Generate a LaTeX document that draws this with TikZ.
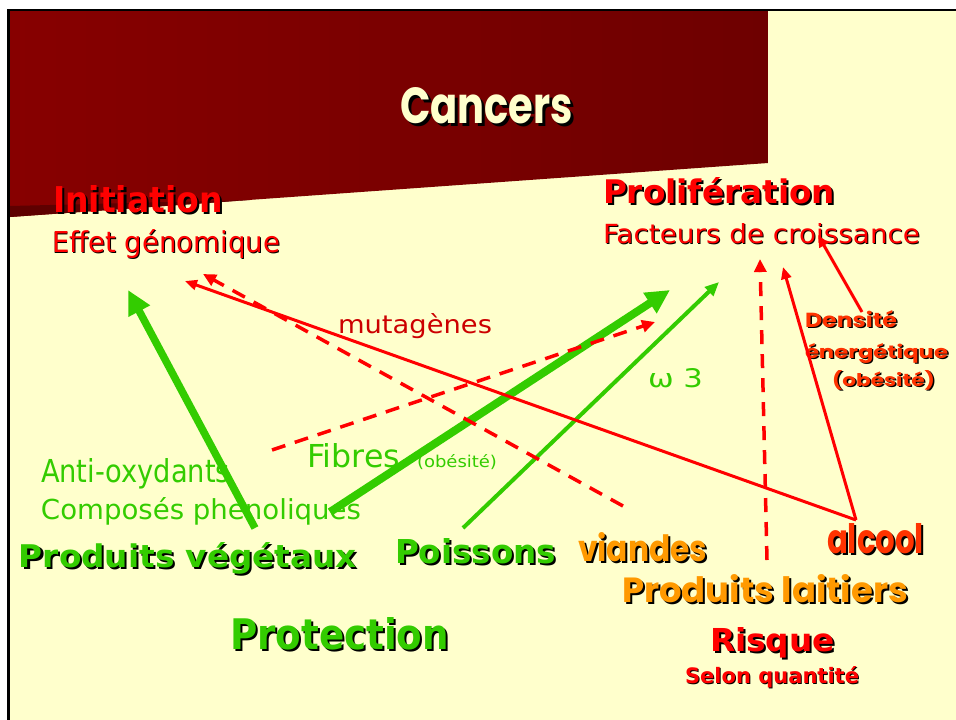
\documentclass[tikz,border=0pt]{standalone}
\usepackage{fontspec}
\setmainfont{DejaVu Sans}
\newfontfamily\comicf{Poppins}
\usetikzlibrary{arrows.meta}
\definecolor{slidebg}{HTML}{FFFFCC}
\definecolor{titlered}{HTML}{870000}
\definecolor{titlereddark}{HTML}{6E0000}
\definecolor{wedge}{HTML}{5E0000}
\definecolor{vert}{HTML}{33CC00}
\definecolor{rouge}{HTML}{FF0000}
\definecolor{rougefonce}{HTML}{CC0000}
\definecolor{orange}{HTML}{FF9900}
\definecolor{orangerouge}{HTML}{FF3300}
\definecolor{titletext}{HTML}{FFFFCC}
\tikzset{
  txt/.style={anchor=base west, inner sep=0pt, outer sep=0pt},
  greenthick/.style={draw=vert, line width=7.5pt, -{Triangle[length=24pt,width=23pt]}},
  greenthin/.style={draw=vert, line width=4pt, -{Triangle[length=14pt,width=12pt]}},
  redsolid/.style={draw=rouge, line width=3pt, -{Triangle[length=12pt,width=10pt]}},
  reddash/.style={draw=rouge, line width=3.5pt, dash pattern=on 14pt off 10pt, -{Triangle[length=13pt,width=12pt]}},
}
% name, x, baseline y, width, height, font, colour, shadow offset, text
\newcommand\slidetext[9]{%
  \node[txt] (#1) at (#2,#3) {%
    \ifdim #8pt>0pt
      \makebox[0pt][l]{\hspace*{#8pt}\raisebox{-#8pt}{\resizebox{#4pt}{#5pt}{#6\color{black}#9}}}%
    \fi
    \resizebox{#4pt}{#5pt}{#6\color{#7}#9}};}
\begin{document}
\begin{tikzpicture}[x=1pt,y=-1pt]
\useasboundingbox (0,0) rectangle (956,720);
\fill[white] (0,0) rectangle (956,720);
\fill[slidebg] (10,11) rectangle (956,720);
% title band
\shade[left color=titlered, right color=titlereddark] (10,11) -- (768,11) -- (768,163) -- (10,217) -- cycle;
\fill[wedge] (10,206) -- (250,200) -- (10,217) -- cycle;
% frame
\draw[black, line width=2.5pt] (7,10) -- (956,10);
\draw[black, line width=3pt] (8.5,10) -- (8.5,720);

% texts
\slidetext{cancers}{400}{123}{173}{36}{\comicf\bfseries}{titletext}{3}{Cancers}
\slidetext{init}{53}{212}{170}{27}{\bfseries}{rouge}{2}{Initiation}
\slidetext{effet}{52}{252}{228}{23}{}{rouge}{1}{Effet génomique}
\slidetext{prolif}{603}{203}{232}{26}{\bfseries}{rouge}{2}{Prolifération}
\slidetext{facteurs}{603}{243}{317}{20}{}{rouge}{1}{Facteurs de croissance}
\slidetext{mutag}{338}{333}{154}{20}{}{rougefonce}{0}{mutagènes}
\slidetext{omega}{648}{387}{55}{19}{}{vert}{0}{ω 3}
\slidetext{densite}{805}{327}{92}{17}{\comicf\bfseries}{orangerouge}{1.5}{Densité}
\slidetext{energ}{805}{358}{143}{15}{\comicf\bfseries}{orangerouge}{1.5}{énergétique}
\slidetext{obes}{832}{386}{103}{16}{\comicf\bfseries}{orangerouge}{1.5}{(obésité)}
\slidetext{fibres}{307}{467}{93}{24}{}{vert}{0}{Fibres}
\slidetext{fibobes}{417}{467}{80}{13}{}{vert}{0}{(obésité)}
\slidetext{antiox}{41}{482}{189}{24}{}{vert}{0}{Anti-oxydants}
\slidetext{phenol}{41}{519}{320}{22}{}{vert}{0}{Composés phenoliques}
\slidetext{vegetaux}{19}{567}{338}{25}{\bfseries}{vert}{2}{Produits végétaux}
\slidetext{poissons}{395}{563}{161}{25}{\bfseries}{vert}{2}{Poissons}
\slidetext{viandes}{578}{561}{129}{29}{\comicf\bfseries}{orange}{2}{viandes}
\slidetext{alcool}{827}{553}{97}{30}{\comicf\bfseries}{orangerouge}{2}{alcool}
\slidetext{laitiers}{622}{602}{286}{28}{\comicf\bfseries}{orange}{2}{Produits laitiers}
\slidetext{risque}{710}{651}{125}{24}{\bfseries}{rouge}{2}{Risque}
\slidetext{selon}{685}{683}{174}{17}{\bfseries}{rouge}{1}{Selon quantité}
\slidetext{protection}{230}{649}{219}{32}{\bfseries}{vert}{2}{Protection}

% arrow end points
\coordinate (aS) at (255,528); \coordinate (aT) at (128,290);
\coordinate (bS) at (330,512); \coordinate (bT) at (670,290);
\coordinate (cS) at (463,528); \coordinate (cT) at (719,282);
\coordinate (alc) at (856,520);
\coordinate (dT) at (185,281);
\coordinate (eS) at (623,506); \coordinate (eT) at (203,274);
\coordinate (fS) at (272,450); \coordinate (fT) at (655,322);
\coordinate (gS) at (767,560); \coordinate (gT) at (760,259);
\coordinate (hT) at (783,267);
\coordinate (iS) at (862,312); \coordinate (iT) at (818,235);

% green arrows
\draw[greenthick] (aS) -- (aT);
\draw[greenthick, line width=8pt] (bS) -- (bT);
\draw[greenthin] (cS) -- (cT);
% red arrows
\draw[reddash] (eS) -- (eT);
\draw[reddash] (fS) -- (fT);
\draw[reddash] (gS) -- (gT);
\draw[redsolid] (alc) -- (dT);
\draw[redsolid] (alc) -- (hT);
\draw[redsolid] (iS) -- (iT);
\end{tikzpicture}
\end{document}
